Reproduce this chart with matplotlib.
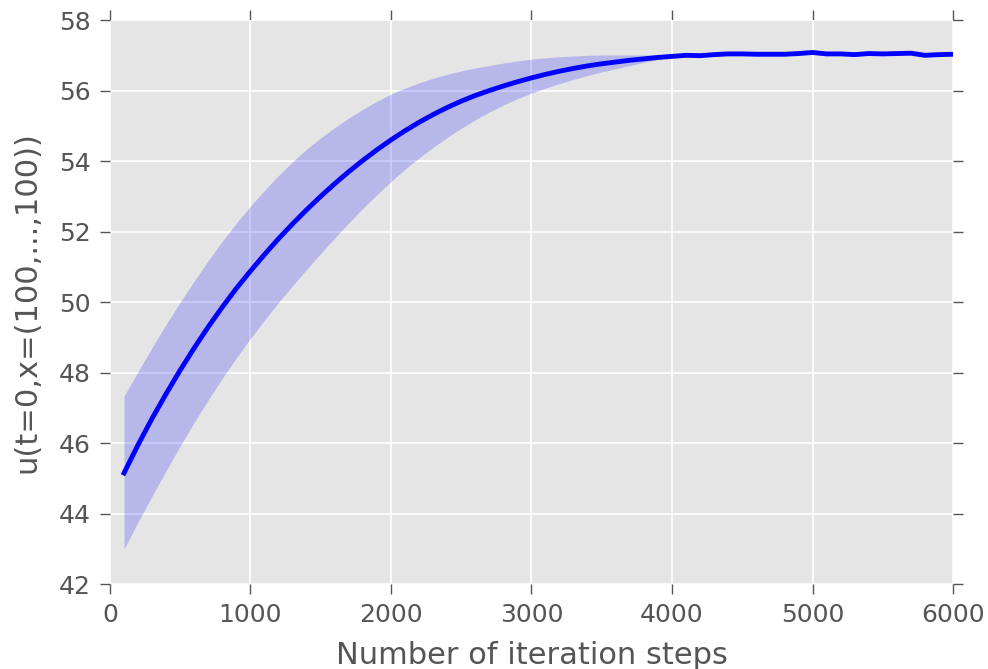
import numpy as np
import matplotlib
matplotlib.use('Agg')
import matplotlib.pyplot as plt

# iteration steps
steps = np.arange(100, 6001, 100)

# mean estimate of u(t=0, x=(100,...,100))
u_mean = [45.15, 45.95, 46.70, 47.40, 48.07, 48.70, 49.30, 49.86, 50.39, 50.88,
          51.35, 51.80, 52.22, 52.62, 53.00, 53.36, 53.70, 54.02, 54.32, 54.60,
          54.86, 55.10, 55.32, 55.52, 55.70, 55.86, 56.00, 56.13, 56.25, 56.36,
          56.46, 56.55, 56.63, 56.70, 56.76, 56.81, 56.86, 56.90, 56.94, 56.97,
          57.00, 56.99, 57.02, 57.04, 57.04, 57.03, 57.03, 57.03, 57.05, 57.08,
          57.04, 57.04, 57.02, 57.05, 57.04, 57.05, 57.06, 57.00, 57.02, 57.03]

# upper / lower edge of the shaded band
u_upper = [47.33, 48.03, 48.71, 49.37, 50.00, 50.60, 51.18, 51.73, 52.24, 52.72,
           53.17, 53.59, 53.98, 54.34, 54.66, 54.95, 55.22, 55.47, 55.70, 55.90,
           56.07, 56.22, 56.35, 56.46, 56.56, 56.64, 56.71, 56.78, 56.84, 56.89,
           56.93, 56.96, 56.98, 57.00, 57.01, 57.01, 57.01, 57.01, 57.01, 57.01,
           57.02, 57.01, 57.03, 57.05, 57.05, 57.04, 57.04, 57.04, 57.06, 57.09,
           57.05, 57.05, 57.03, 57.06, 57.05, 57.06, 57.07, 57.01, 57.03, 57.04]
u_lower = [43.00, 43.76, 44.50, 45.22, 45.92, 46.59, 47.23, 47.84, 48.42, 48.97,
           49.49, 49.99, 50.47, 50.93, 51.38, 51.82, 52.25, 52.66, 53.05, 53.42,
           53.77, 54.09, 54.39, 54.67, 54.93, 55.17, 55.39, 55.59, 55.77, 55.93,
           56.07, 56.20, 56.32, 56.43, 56.53, 56.62, 56.71, 56.80, 56.88, 56.95,
           56.99, 56.98, 57.01, 57.03, 57.03, 57.02, 57.02, 57.02, 57.04, 57.07,
           57.03, 57.03, 57.01, 57.04, 57.03, 57.04, 57.05, 56.99, 57.01, 57.02]

txt = '#555555'
plt.rcParams['font.family'] = 'DejaVu Sans'

fig = plt.figure(figsize=(9.88, 6.69), dpi=100)
ax = fig.add_axes([0.1113, 0.127, 0.8533, 0.843])
ax.set_facecolor('#E5E5E5')

ax.fill_between(steps, u_lower, u_upper, color='blue', alpha=0.2, linewidth=0)
ax.plot(steps, u_mean, color='blue', linewidth=3.5)

ax.set_xlim(0, 6000)
ax.set_ylim(42, 58)
ax.set_xticks(range(0, 6001, 1000))
ax.set_yticks(range(42, 59, 2))

ax.grid(True, color='white', linewidth=1.2)
ax.set_axisbelow(True)
for s in ax.spines.values():
    s.set_visible(False)

ax.tick_params(direction='out', length=7, width=1, color=txt, labelcolor=txt,
               labelsize=18, top=True, right=True, pad=7)

ax.set_xlabel('Number of iteration steps', fontsize=22, color=txt, labelpad=10)
ax.set_ylabel('u(t=0,x=(100,...,100))', fontsize=22, color=txt, labelpad=12)

fig.savefig('out.png', dpi=100)
